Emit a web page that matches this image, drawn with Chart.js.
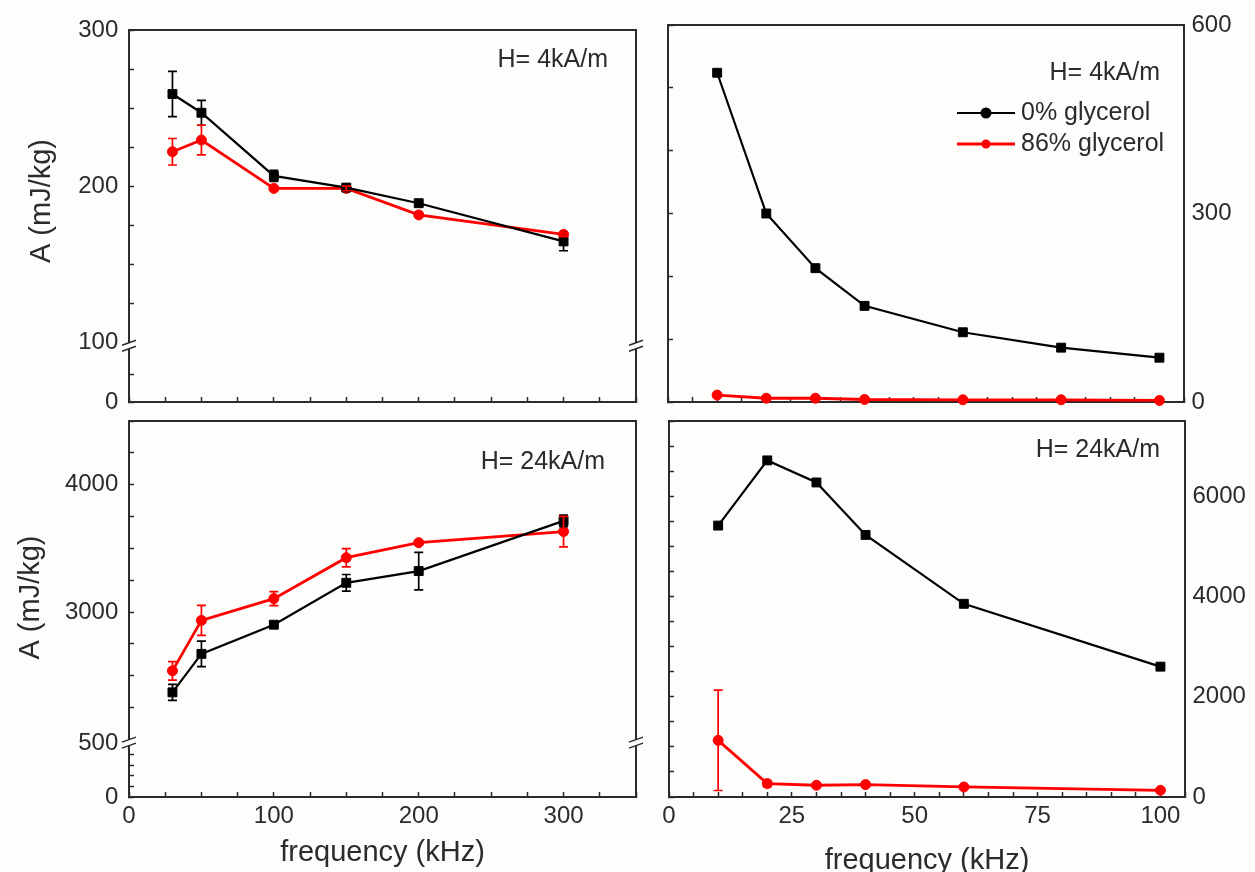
<!DOCTYPE html>
<html>
<head>
<meta charset="utf-8">
<title>Specific absorption vs frequency</title>
<script src="https://cdn.jsdelivr.net/npm/chart.js@4"></script>
<style>
  html, body { margin: 0; padding: 0; background: #fdfdfb; overflow: hidden; }
  #wrap { position: relative; width: 1255px; height: 872px; }
  canvas { position: absolute; left: 0; top: 0; }
</style>
</head>
<body>
<div id="wrap">
  <canvas id="tl" width="1255" height="872"></canvas>
  <canvas id="bl" width="1255" height="872"></canvas>
  <canvas id="tr" width="1255" height="872"></canvas>
  <canvas id="br" width="1255" height="872"></canvas>
</div>
<script>
// Left column: 30-300 kHz, right column: 10-100 kHz
const freqLeft = [30, 50, 100, 150, 200, 300];
const a4Glyc0 = [259, 247, 206.5, 199, 189, 164.5];
const a4Glyc0Err = [14.5, 8, 3.5, 1.5, 1.5, 6];
const a4Glyc86 = [222, 229.5, 198.5, 198.5, 181.5, 169];
const a4Glyc86Err = [8.5, 9.5, 1, 1.5, 0, 1.5];
const a24Glyc0 = [2370, 2672, 2901, 3230, 3322, 3716];
const a24Glyc0Err = [63, 100, 15, 65, 147, 45];
const a24Glyc86 = [2539, 2935, 3106, 3427, 3545, 3632];
const a24Glyc86Err = [73, 118, 55, 72, 15, 120];

const freqRight4 = [10, 20, 30, 40, 60, 80, 100];
const b4Glyc0 = [524, 300, 213, 153, 111, 86.5, 70.5];
const b4Glyc86 = [11, 6, 6, 4, 3.5, 3.5, 2.5];
const freqRight24 = [10, 20, 30, 40, 60, 100];
const b24Glyc0 = [5414, 6714, 6274, 5228, 3854, 2600];
const b24Glyc86 = [1130, 267, 234, 247, 200, 134];
const b24Glyc86Err = [1000, 60, 0, 0, 0, 0];

const seriesNames = ['0% glycerol', '86% glycerol'];
const fieldLabels = ['H= 4kA/m', 'H= 24kA/m'];
const xTicksLeft = [0, 100, 200, 300];
const xTicksRight = [0, 25, 50, 75, 100];
const yTicksTL = [0, 100, 200, 300];
const yTicksBL = [0, 500, 3000, 4000];
const yTicksTR = [0, 300, 600];
const yTicksBR = [0, 2000, 4000, 6000];

const FONT = '"Liberation Sans", Arial, Helvetica, sans-serif';
const INK = '#2b2b2b';
const BG = '#fdfdfb';
const BLACK = '#000000';
const RED = '#ff0000';
Chart.defaults.font.family = FONT;
Chart.defaults.color = INK;

function steps(from, to, step) {
  const out = [];
  for (let v = from; v <= to + 1e-9; v += step) out.push({ value: Math.round(v * 1000) / 1000 });
  return out;
}

// inward tick marks, no grid lines
function tickGrid() {
  return { display: true, drawOnChartArea: false, drawTicks: true, tickLength: -5, tickWidth: 1.5, tickColor: INK };
}

// plain border line (top / right of the frame)
function frameAxis(position, size) {
  const horizontal = position === 'top' || position === 'bottom';
  return {
    type: 'linear', position, min: 0, max: 1, display: true,
    grid: { display: false, drawTicks: false },
    ticks: { display: false },
    border: { display: true, color: INK, width: 2 },
    afterFit: s => { if (horizontal) s.height = size; else s.width = size; }
  };
}

function yAxis({ position = 'left', min, max, from = min, to = max, step, labels = [], width, inward = true, stack, stackWeight, weight = 0 }) {
  const axis = {
    type: 'linear', position, min, max, bounds: 'data', weight,
    afterBuildTicks: s => { s.ticks = steps(from, to, step); },
    afterFit: s => { s.width = width; },
    border: { display: true, color: INK, width: 2 },
    grid: inward ? tickGrid() : { display: false, drawTicks: false },
    ticks: {
      display: labels.length > 0, autoSkip: false, color: INK, font: { size: 24 },
      padding: inward ? 15.7 : 7.5,
      callback: v => labels.includes(v) ? String(v) : ''
    }
  };
  if (stack) { axis.stack = stack; axis.stackWeight = stackWeight; }
  return axis;
}

function xAxis({ max, step, labels = [], height, titlePad }) {
  return {
    type: 'linear', position: 'bottom', min: 0, max, bounds: 'data',
    afterBuildTicks: s => { s.ticks = steps(0, max, step); },
    afterFit: s => { s.height = height; },
    border: { display: true, color: INK, width: 2 },
    grid: tickGrid(),
    ticks: {
      display: labels.length > 0, autoSkip: false, maxRotation: 0, minRotation: 0,
      color: INK, font: { size: 24 }, padding: 10.3,
      callback: v => labels.includes(v) ? String(v) : ''
    },
    title: titlePad === undefined ? { display: false } : {
      display: true, text: 'frequency (kHz)', color: INK,
      font: { size: 29, lineHeight: 1 }, padding: { top: 0, bottom: titlePad }
    }
  };
}

function series(label, xs, ys, errs, color, yAxisID) {
  const plain = color === BLACK;
  return {
    label,
    data: xs.map((x, i) => ({ x, y: ys[i] })),
    errors: errs,
    borderColor: color, backgroundColor: color,
    borderWidth: plain ? 2.2 : 2.8,
    pointStyle: plain ? 'rect' : 'circle',
    pointRadius: plain ? 6.3 : 5,
    pointBorderWidth: 1,
    tension: 0, clip: false,
    xAxisID: 'x', yAxisID
  };
}

// vertical error bars with caps
const errorBars = {
  id: 'errorBars',
  afterDatasetsDraw(chart) {
    const ctx = chart.ctx;
    chart.data.datasets.forEach((ds, i) => {
      if (!ds.errors) return;
      const meta = chart.getDatasetMeta(i);
      const yScale = chart.scales[meta.yAxisID];
      ctx.save();
      ctx.strokeStyle = ds.borderColor;
      ctx.lineWidth = 1.7;
      meta.data.forEach((pt, j) => {
        const e = ds.errors[j];
        if (!e) return;
        const v = ds.data[j].y;
        const yTop = yScale.getPixelForValue(v + e);
        const yBot = yScale.getPixelForValue(v - e);
        ctx.beginPath();
        ctx.moveTo(pt.x, yTop); ctx.lineTo(pt.x, yBot);
        ctx.moveTo(pt.x - 4.5, yTop); ctx.lineTo(pt.x + 4.5, yTop);
        ctx.moveTo(pt.x - 4.5, yBot); ctx.lineTo(pt.x + 4.5, yBot);
        ctx.stroke();
      });
      ctx.restore();
    });
  }
};

// "//" break marks on both sides of the frame
const axisBreak = {
  id: 'axisBreak',
  afterDraw(chart, args, opts) {
    const up = chart.scales[opts.upper], lo = chart.scales[opts.lower];
    if (!up || !lo) return;
    const y = (up.getPixelForValue(up.min) + lo.getPixelForValue(opts.at)) / 2 + 1;
    const { ctx, chartArea: a } = chart;
    ctx.save();
    [a.left, a.right].forEach(x => {
      ctx.fillStyle = BG;
      ctx.beginPath();
      ctx.moveTo(x - 7, y - 0.5); ctx.lineTo(x + 7, y - 5.5);
      ctx.lineTo(x + 7, y + 0.5); ctx.lineTo(x - 7, y + 5.5);
      ctx.closePath();
      ctx.fill();
      ctx.strokeStyle = INK;
      ctx.lineWidth = 1.5;
      ctx.beginPath();
      ctx.moveTo(x - 7, y - 0.5); ctx.lineTo(x + 7, y - 5.5);
      ctx.moveTo(x - 7, y + 5.5); ctx.lineTo(x + 7, y + 0.5);
      ctx.stroke();
    });
    ctx.restore();
  }
};

// field label, y title and legend
const panelText = {
  id: 'panelText',
  afterDraw(chart, args, opts) {
    const { ctx, chartArea: a } = chart;
    ctx.save();
    ctx.fillStyle = INK;
    if (opts.note) {
      ctx.font = `25px ${FONT}`;
      ctx.textAlign = 'right';
      ctx.textBaseline = 'middle';
      ctx.fillText(opts.note.text, a.right - opts.note.dx, a.top + opts.note.dy);
    }
    if (opts.legend) {
      const L = opts.legend;
      chart.data.datasets.forEach((ds, i) => {
        const y = L.y + i * L.dy;
        ctx.strokeStyle = ds.borderColor;
        ctx.lineWidth = ds.borderWidth;
        ctx.beginPath(); ctx.moveTo(L.x, y); ctx.lineTo(L.x + L.len, y); ctx.stroke();
        ctx.fillStyle = ds.borderColor;
        ctx.beginPath(); ctx.arc(L.x + L.len / 2, y, i === 0 ? 5.5 : 4.5, 0, Math.PI * 2); ctx.fill();
        ctx.fillStyle = INK;
        ctx.font = `25px ${FONT}`;
        ctx.textAlign = 'left';
        ctx.textBaseline = 'middle';
        ctx.fillText(ds.label, L.x + L.len + 6, y);
      });
    }
    if (opts.yTitle) {
      ctx.translate(opts.yTitle.x, opts.yTitle.y);
      ctx.rotate(-Math.PI / 2);
      ctx.font = `29px ${FONT}`;
      ctx.textAlign = 'center';
      ctx.textBaseline = 'alphabetic';
      ctx.fillStyle = INK;
      ctx.fillText(opts.yTitle.text, 0, 0);
    }
    ctx.restore();
  }
};

function panel(id, { padding, scales, datasets, breakAt, note, yTitle, legend }) {
  return new Chart(document.getElementById(id), {
    type: 'line',
    data: { datasets },
    options: {
      responsive: false,
      animation: false,
      events: [],
      layout: { padding },
      scales,
      plugins: {
        legend: { display: false },
        tooltip: { enabled: false },
        axisBreak: breakAt || false,
        panelText: { note, yTitle, legend }
      }
    },
    plugins: [errorBars, axisBreak, panelText]
  });
}

// top left: H = 4 kA/m, 30-300 kHz
panel('tl', {
  padding: { left: 0, right: 619, top: 27, bottom: 450 },
  scales: {
    x: xAxis({ max: 350, step: 25, height: 20 }),
    xTop: frameAxis('top', 0),
    yRight: frameAxis('right', 0),
    yUp: yAxis({ min: 100, max: 300, step: 25, labels: yTicksTL, width: 129, stack: 'left', stackWeight: 314.5, weight: 1 }),
    yLow: yAxis({ min: 0, max: 110, to: 50, step: 50, labels: yTicksTL, width: 129, stack: 'left', stackWeight: 60.5, weight: 0 })
  },
  datasets: [
    series(seriesNames[0], freqLeft, a4Glyc0, a4Glyc0Err, BLACK, 'yUp'),
    series(seriesNames[1], freqLeft, a4Glyc86, a4Glyc86Err, RED, 'yUp')
  ],
  breakAt: { upper: 'yUp', lower: 'yLow', at: 100 },
  note: { text: fieldLabels[0], dx: 28, dy: 29.7 },
  yTitle: { text: 'A (mJ/kg)', x: 50, y: 201 }
});

// bottom left: H = 24 kA/m, 30-300 kHz
panel('bl', {
  padding: { left: 0, right: 619, top: 421, bottom: 0 },
  scales: {
    x: xAxis({ max: 350, step: 25, labels: xTicksLeft, height: 75, titlePad: 5 }),
    xTop: frameAxis('top', 0),
    yRight: frameAxis('right', 0),
    yUp: yAxis({ min: 2000, max: 4500, step: 250, labels: yTicksBL, width: 129, stack: 'left', stackWeight: 318.5, weight: 1 }),
    yLow: yAxis({ min: 0, max: 540, to: 500, step: 100, labels: yTicksBL, width: 129, stack: 'left', stackWeight: 57.5, weight: 0 })
  },
  datasets: [
    series(seriesNames[0], freqLeft, a24Glyc0, a24Glyc0Err, BLACK, 'yUp'),
    series(seriesNames[1], freqLeft, a24Glyc86, a24Glyc86Err, RED, 'yUp')
  ],
  breakAt: { upper: 'yUp', lower: 'yLow', at: 500 },
  note: { text: fieldLabels[1], dx: 31, dy: 40.7 },
  yTitle: { text: 'A (mJ/kg)', x: 38.5, y: 597.5 }
});

// top right: H = 4 kA/m, 10-100 kHz
panel('tr', {
  padding: { left: 658, right: 11, top: 25, bottom: 450 },
  scales: {
    x: xAxis({ max: 105, step: 5, height: 20 }),
    xTop: frameAxis('top', 0),
    yLeft: yAxis({ min: 0, max: 600, step: 100, width: 10 }),
    y: yAxis({ position: 'right', min: 0, max: 600, step: 300, labels: yTicksTR, width: 60, inward: false })
  },
  datasets: [
    series(seriesNames[0], freqRight4, b4Glyc0, null, BLACK, 'y'),
    series(seriesNames[1], freqRight4, b4Glyc86, null, RED, 'y')
  ],
  note: { text: fieldLabels[0], dx: 24, dy: 48.5 },
  legend: { x: 957, y: 113, dy: 31, len: 58 }
});

// bottom right: H = 24 kA/m, 10-100 kHz
panel('br', {
  padding: { left: 659, right: 10, top: 421, bottom: 0 },
  scales: {
    x: xAxis({ max: 105, step: 5, labels: xTicksRight, height: 75, titlePad: -3 }),
    xTop: frameAxis('top', 0),
    yLeft: yAxis({ min: 0, max: 7500, step: 500, width: 10 }),
    y: yAxis({ position: 'right', min: 0, max: 7500, step: 2000, labels: yTicksBR, width: 60, inward: false })
  },
  datasets: [
    series(seriesNames[0], freqRight24, b24Glyc0, null, BLACK, 'y'),
    series(seriesNames[1], freqRight24, b24Glyc86, b24Glyc86Err, RED, 'y')
  ],
  note: { text: fieldLabels[1], dx: 25, dy: 29 }
});
</script>
</body>
</html>
